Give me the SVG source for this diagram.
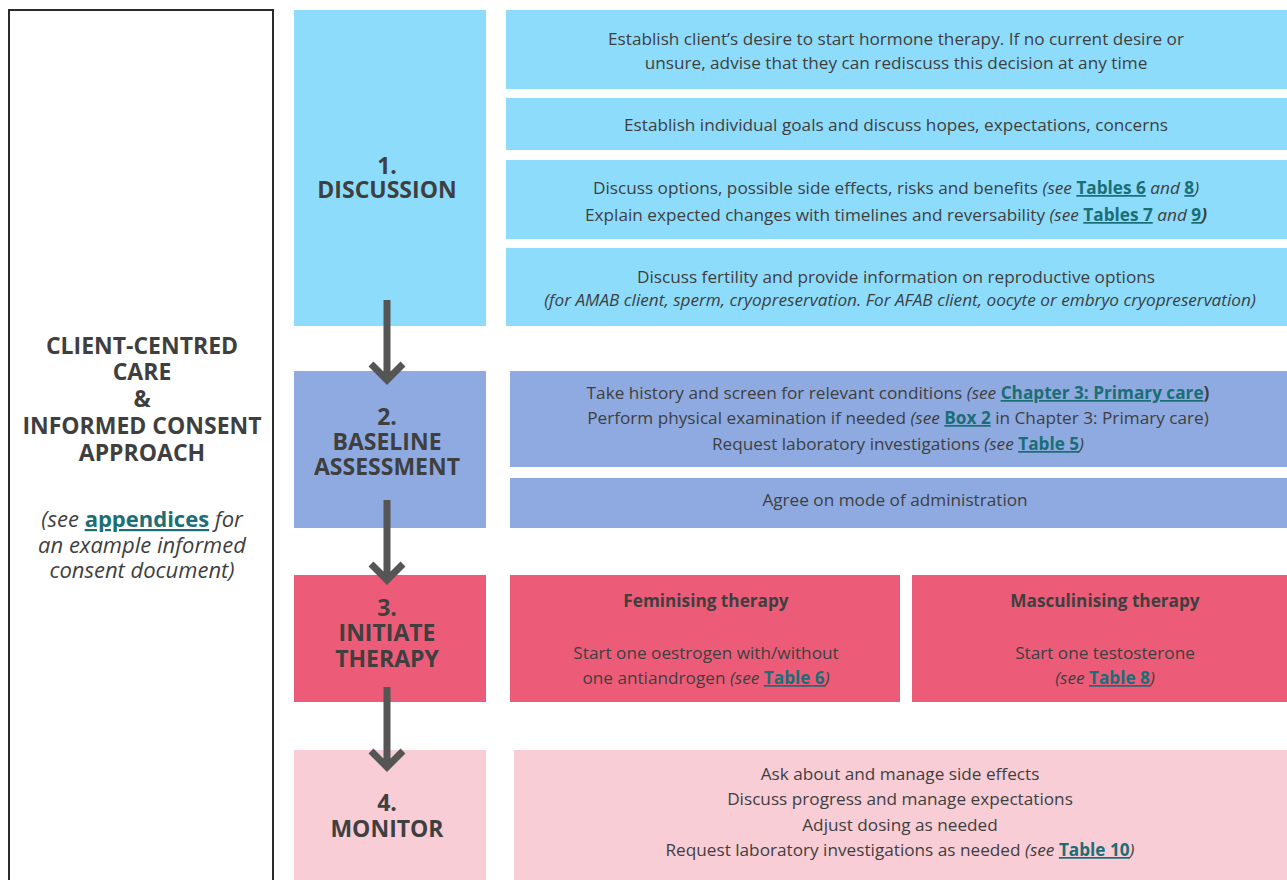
<svg xmlns="http://www.w3.org/2000/svg" width="1287" height="880" viewBox="0 0 1287 880">
<style>
text{font-family:"Open Sans","Noto Sans","Liberation Sans",sans-serif;fill:#3f3f3f;text-anchor:middle}
.b{font-size:17.2px}
.st{font-size:23px;font-weight:bold}
.lt{font-size:23px;font-weight:bold}
.it{font-style:italic}
.lk{font-weight:bold;fill:#1b6e76;text-decoration:underline;font-style:normal}
.c1{fill:#8ddcfc}.c2{fill:#8eaae0}.c3{fill:#ec5c79}.c4{fill:#f8cdd6}
.arr{stroke:#555;stroke-width:7;fill:none}
</style>
<rect width="1287" height="880" fill="#fff"/>
<g id="left">
<rect x="9" y="10" width="264" height="880" fill="#fff" stroke="#2b2b2b" stroke-width="2"/>
<text class="lt" x="142" y="354">CLIENT-CENTRED</text>
<text class="lt" x="142" y="380">CARE</text>
<text class="lt" x="142" y="407">&amp;</text>
<text class="lt" x="142" y="434">INFORMED CONSENT</text>
<text class="lt" x="142" y="461">APPROACH</text>
<text class="it" style="font-size:22px" x="142" y="527">(see <tspan class="lk">appendices</tspan> for</text>
<text class="it" style="font-size:22px" x="142" y="553">an example informed</text>
<text class="it" style="font-size:22px" x="142" y="578">consent document)</text>
</g>
<g id="step1">
<rect class="c1" x="294" y="10" width="192" height="316"/>
<text class="st" x="387" y="174">1.</text>
<text class="st" x="387" y="198">DISCUSSION</text>
</g>
<g id="step2">
<rect class="c2" x="294" y="371" width="192" height="157"/>
<text class="st" x="387" y="425">2.</text>
<text class="st" x="387" y="450">BASELINE</text>
<text class="st" x="387" y="475">ASSESSMENT</text>
</g>
<g id="step3">
<rect class="c3" x="294" y="575" width="192" height="127"/>
<text class="st" x="387" y="616">3.</text>
<text class="st" x="387" y="641">INITIATE</text>
<text class="st" x="387" y="667">THERAPY</text>
</g>
<g id="step4">
<rect class="c4" x="294" y="750" width="192" height="130"/>
<text class="st" x="387" y="811">4.</text>
<text class="st" x="387" y="837">MONITOR</text>
</g>
<g id="d1">
<rect class="c1" x="506" y="10" width="781" height="79"/>
<text class="b" x="896" y="45">Establish client’s desire to start hormone therapy. If no current desire or</text>
<text class="b" x="896" y="69">unsure, advise that they can rediscuss this decision at any time</text>
</g>
<g id="d2">
<rect class="c1" x="506" y="98" width="781" height="52"/>
<text class="b" x="896" y="131">Establish individual goals and discuss hopes, expectations, concerns</text>
</g>
<g id="d3">
<rect class="c1" x="506" y="160" width="781" height="79"/>
<text class="b" x="896" y="194">Discuss options, possible side effects, risks and benefits <tspan class="it">(see </tspan><tspan class="lk">Tables 6</tspan><tspan class="it"> and </tspan><tspan class="lk">8</tspan><tspan class="it">)</tspan></text>
<text class="b" x="896" y="221">Explain expected changes with timelines and reversability <tspan class="it">(see </tspan><tspan class="lk">Tables 7</tspan><tspan class="it"> and </tspan><tspan class="lk">9</tspan><tspan class="it" font-weight="bold">)</tspan></text>
</g>
<g id="d4">
<rect class="c1" x="506" y="248" width="781" height="78"/>
<text class="b" x="896" y="283">Discuss fertility and provide information on reproductive options</text>
<text class="b it" x="900" y="306">(for AMAB client, sperm, cryopreservation. For AFAB client, oocyte or embryo cryopreservation)</text>
</g>
<g id="b1">
<rect class="c2" x="510" y="371" width="777" height="96"/>
<text class="b" x="898" y="399">Take history and screen for relevant conditions <tspan class="it">(see </tspan><tspan class="lk">Chapter 3: Primary care</tspan><tspan font-weight="bold">)</tspan></text>
<text class="b" x="898" y="424">Perform physical examination if needed <tspan class="it">(see </tspan><tspan class="lk">Box 2</tspan> in Chapter 3: Primary care)</text>
<text class="b" x="898" y="450">Request laboratory investigations <tspan class="it">(see </tspan><tspan class="lk">Table 5</tspan><tspan class="it">)</tspan></text>
</g>
<g id="b2">
<rect class="c2" x="510" y="478" width="777" height="50"/>
<text class="b" x="895" y="506">Agree on mode of administration</text>
</g>
<g id="i1">
<rect class="c3" x="510" y="575" width="390" height="127"/>
<text class="b" font-weight="bold" x="706" y="607">Feminising therapy</text>
<text class="b" x="706" y="659">Start one oestrogen with/without</text>
<text class="b" x="706" y="684">one antiandrogen <tspan class="it">(see </tspan><tspan class="lk">Table 6</tspan><tspan class="it">)</tspan></text>
</g>
<g id="i2">
<rect class="c3" x="912" y="575" width="375" height="127"/>
<text class="b" font-weight="bold" x="1105" y="607">Masculinising therapy</text>
<text class="b" x="1105" y="659">Start one testosterone</text>
<text class="b" x="1105" y="684"><tspan class="it">(see </tspan><tspan class="lk">Table 8</tspan><tspan class="it">)</tspan></text>
</g>
<g id="m1">
<rect class="c4" x="514" y="750" width="773" height="130"/>
<text class="b" x="900" y="780">Ask about and manage side effects</text>
<text class="b" x="900" y="805">Discuss progress and manage expectations</text>
<text class="b" x="900" y="831">Adjust dosing as needed</text>
<text class="b" x="900" y="856">Request laboratory investigations as needed <tspan class="it">(see </tspan><tspan class="lk">Table 10</tspan><tspan class="it">)</tspan></text>
</g>
<g id="connectors">
<path class="arr" d="M387 300V380M371 364L387 380L403 364"/>
<path class="arr" d="M387 500V580M371 564L387 580L403 564"/>
<path class="arr" d="M387 687V767M371 751L387 767L403 751"/>
</g>
</svg>
